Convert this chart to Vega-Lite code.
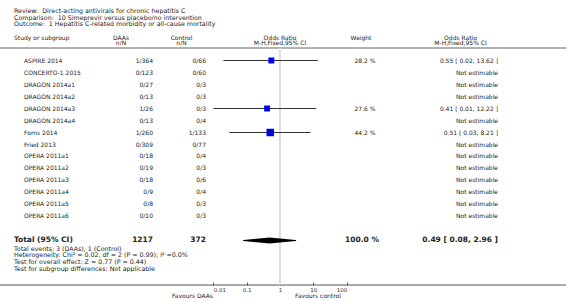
{
  "$schema": "https://vega.github.io/schema/vega-lite/v6.json",
  "width": 566,
  "height": 301,
  "autosize": {"type": "none"},
  "padding": 0,
  "background": "white",
  "config": {
    "view": {"stroke": null},
    "text": {"font": "DejaVu Sans", "fontSize": 6, "fill": "#222"}
  },
  "datasets": {
    "studies": [
      {"study": "ASPIRE 2014", "daas": "1/364", "ctrl": "0/66", "weight": "28.2 %", "or_txt": "0.55 [ 0.02, 13.62 ]", "or": 0.55, "lo": 0.02, "hi": 13.62, "w": 28.2, "row": 0},
      {"study": "CONCERTO-1 2015", "daas": "0/123", "ctrl": "0/60", "weight": "", "or_txt": "Not estimable", "or": null, "lo": null, "hi": null, "w": null, "row": 1},
      {"study": "DRAGON 2014a1", "daas": "0/27", "ctrl": "0/3", "weight": "", "or_txt": "Not estimable", "or": null, "lo": null, "hi": null, "w": null, "row": 2},
      {"study": "DRAGON 2014a2", "daas": "0/13", "ctrl": "0/3", "weight": "", "or_txt": "Not estimable", "or": null, "lo": null, "hi": null, "w": null, "row": 3},
      {"study": "DRAGON 2014a3", "daas": "1/26", "ctrl": "0/3", "weight": "27.6 %", "or_txt": "0.41 [ 0.01, 12.22 ]", "or": 0.41, "lo": 0.01, "hi": 12.22, "w": 27.6, "row": 4},
      {"study": "DRAGON 2014a4", "daas": "0/13", "ctrl": "0/4", "weight": "", "or_txt": "Not estimable", "or": null, "lo": null, "hi": null, "w": null, "row": 5},
      {"study": "Forns 2014", "daas": "1/260", "ctrl": "1/133", "weight": "44.2 %", "or_txt": "0.51 [ 0.03, 8.21 ]", "or": 0.51, "lo": 0.03, "hi": 8.21, "w": 44.2, "row": 6},
      {"study": "Fried 2013", "daas": "0/309", "ctrl": "0/77", "weight": "", "or_txt": "Not estimable", "or": null, "lo": null, "hi": null, "w": null, "row": 7},
      {"study": "OPERA 2011a1", "daas": "0/18", "ctrl": "0/4", "weight": "", "or_txt": "Not estimable", "or": null, "lo": null, "hi": null, "w": null, "row": 8},
      {"study": "OPERA 2011a2", "daas": "0/19", "ctrl": "0/3", "weight": "", "or_txt": "Not estimable", "or": null, "lo": null, "hi": null, "w": null, "row": 9},
      {"study": "OPERA 2011a3", "daas": "0/18", "ctrl": "0/6", "weight": "", "or_txt": "Not estimable", "or": null, "lo": null, "hi": null, "w": null, "row": 10},
      {"study": "OPERA 2011a4", "daas": "0/9", "ctrl": "0/4", "weight": "", "or_txt": "Not estimable", "or": null, "lo": null, "hi": null, "w": null, "row": 11},
      {"study": "OPERA 2011a5", "daas": "0/8", "ctrl": "0/3", "weight": "", "or_txt": "Not estimable", "or": null, "lo": null, "hi": null, "w": null, "row": 12},
      {"study": "OPERA 2011a6", "daas": "0/10", "ctrl": "0/3", "weight": "", "or_txt": "Not estimable", "or": null, "lo": null, "hi": null, "w": null, "row": 13}
    ],
    "total": [
      {"study": "Total (95% CI)", "daas": "1217", "ctrl": "372", "weight": "100.0 %", "or_txt": "0.49 [ 0.08, 2.96 ]", "or": 0.49, "lo": 0.08, "hi": 2.96, "row": 15}
    ],
    "notes": [
      {"col": "title", "text": "Review:\u00a0 Direct-acting antivirals for chronic hepatitis C", "row": -4.125},
      {"col": "title", "text": "Comparison:\u00a0 10 Simeprevir versus placebo/no intervention", "row": -3.58},
      {"col": "title", "text": "Outcome:\u00a0 1 Hepatitis C-related morbidity or all-cause mortality", "row": -3.04},
      {"col": "left", "text": "Study or subgroup", "row": -1.875},
      {"col": "daas", "text": "DAAs", "row": -1.875},
      {"col": "daas", "text": "n/N", "row": -1.42},
      {"col": "ctrl", "text": "Control", "row": -1.875},
      {"col": "ctrl", "text": "n/N", "row": -1.42},
      {"col": "forest", "text": "Odds Ratio", "row": -1.875},
      {"col": "forest", "text": "M-H,Fixed,95% CI", "row": -1.42},
      {"col": "weight", "text": "Weight", "row": -1.875},
      {"col": "ortxt", "text": "Odds Ratio", "row": -1.875},
      {"col": "ortxt", "text": "M-H,Fixed,95% CI", "row": -1.42},
      {"col": "title", "text": "Total events: 3 (DAAs), 1 (Control)", "row": 15.68},
      {"col": "title", "text": "Heterogeneity: Chi² = 0.02, df = 2 (P = 0.99); I² =0.0%", "row": 16.23},
      {"col": "title", "text": "Test for overall effect: Z = 0.77 (P = 0.44)", "row": 16.79},
      {"col": "title", "text": "Test for subgroup differences: Not applicable", "row": 17.35},
      {"col": "favL", "text": "Favours DAAs", "row": 19.6},
      {"col": "favR", "text": "Favours control", "row": 19.6}
    ]
  },
  "layer": [
    {
      "data": {"values": [{}]},
      "mark": {"type": "rule", "color": "#999", "strokeWidth": 1.5},
      "encoding": {
        "y": {"datum": -1.04, "type": "quantitative", "scale": {"domain": [-5.0417, 20.0417], "reverse": true, "nice": false, "zero": false}, "axis": null}
      }
    },
    {
      "data": {"values": [{}]},
      "mark": {"type": "rule", "color": "#555", "strokeWidth": 1},
      "encoding": {"y": {"datum": 18.71, "type": "quantitative"}}
    },
    {
      "data": {"values": [{}]},
      "mark": {"type": "rule", "color": "#ddd", "strokeWidth": 2},
      "encoding": {
        "x": {"datum": 1, "type": "quantitative"},
        "y": {"datum": -1.04, "type": "quantitative"},
        "y2": {"datum": 18.71}
      }
    },
    {
      "data": {"name": "studies"},
      "transform": [{"filter": "isValid(datum.lo)"}],
      "mark": {"type": "rule", "color": "#333", "strokeWidth": 1},
      "encoding": {
        "x": {
          "field": "lo", "type": "quantitative",
          "scale": {"type": "log", "domain": [0.01, 100], "range": [213.33, 346.67], "nice": false},
          "axis": {
            "values": [0.01, 0.1, 1, 10, 100], "format": "~g", "title": null, "offset": -16,
            "domain": false, "grid": false, "tickSize": -3, "tickColor": "#555",
            "labelFont": "DejaVu Sans", "labelFontSize": 5.5, "labelColor": "#333", "labelPadding": 5, "labelBaseline": "top"
          }
        },
        "x2": {"field": "hi"},
        "y": {"field": "row", "type": "quantitative"}
      }
    },
    {
      "data": {"name": "studies"},
      "transform": [{"filter": "isValid(datum.or)"}],
      "mark": {"type": "point", "shape": "square", "filled": true, "color": "#0000ff", "opacity": 1},
      "encoding": {
        "x": {"field": "or", "type": "quantitative"},
        "y": {"field": "row", "type": "quantitative"},
        "size": {"field": "w", "type": "quantitative", "scale": {"domain": [0, 44.2], "range": [0, 56]}, "legend": null}
      }
    },
    {
      "data": {"name": "studies"},
      "transform": [{"filter": "isValid(datum.or)"}],
      "mark": {"type": "tick", "orient": "vertical", "color": "#000", "size": 4, "thickness": 1},
      "encoding": {
        "x": {"field": "or", "type": "quantitative"},
        "y": {"field": "row", "type": "quantitative"}
      }
    },
    {
      "data": {"name": "total"},
      "transform": [{"fold": ["lo", "or", "hi"], "as": ["part", "val"]}],
      "mark": {"type": "trail", "color": "#000"},
      "encoding": {
        "x": {"field": "val", "type": "quantitative"},
        "y": {"field": "row", "type": "quantitative"},
        "size": {"condition": {"test": "datum.part === 'or'", "value": 6}, "value": 0}
      }
    },
    {
      "data": {"name": "studies"},
      "mark": {"type": "text", "align": "left"},
      "encoding": {"x": {"value": 24}, "y": {"field": "row", "type": "quantitative"}, "text": {"field": "study"}}
    },
    {
      "data": {"name": "studies"},
      "mark": {"type": "text", "align": "right"},
      "encoding": {"x": {"value": 153}, "y": {"field": "row", "type": "quantitative"}, "text": {"field": "daas"}}
    },
    {
      "data": {"name": "studies"},
      "mark": {"type": "text", "align": "right"},
      "encoding": {"x": {"value": 206}, "y": {"field": "row", "type": "quantitative"}, "text": {"field": "ctrl"}}
    },
    {
      "data": {"name": "studies"},
      "mark": {"type": "text", "align": "center"},
      "encoding": {"x": {"value": 365}, "y": {"field": "row", "type": "quantitative"}, "text": {"field": "weight"}}
    },
    {
      "data": {"name": "studies"},
      "mark": {"type": "text", "align": "right"},
      "encoding": {"x": {"value": 498}, "y": {"field": "row", "type": "quantitative"}, "text": {"field": "or_txt"}}
    },
    {
      "data": {"name": "total"},
      "mark": {"type": "text", "align": "left", "fontWeight": "bold", "fontSize": 7.5},
      "encoding": {"x": {"value": 14}, "y": {"field": "row", "type": "quantitative"}, "text": {"field": "study"}}
    },
    {
      "data": {"name": "total"},
      "mark": {"type": "text", "align": "right", "fontWeight": "bold", "fontSize": 7.5},
      "encoding": {"x": {"value": 153}, "y": {"field": "row", "type": "quantitative"}, "text": {"field": "daas"}}
    },
    {
      "data": {"name": "total"},
      "mark": {"type": "text", "align": "right", "fontWeight": "bold", "fontSize": 7.5},
      "encoding": {"x": {"value": 206}, "y": {"field": "row", "type": "quantitative"}, "text": {"field": "ctrl"}}
    },
    {
      "data": {"name": "total"},
      "mark": {"type": "text", "align": "center", "fontWeight": "bold", "fontSize": 7.5},
      "encoding": {"x": {"value": 362}, "y": {"field": "row", "type": "quantitative"}, "text": {"field": "weight"}}
    },
    {
      "data": {"name": "total"},
      "mark": {"type": "text", "align": "right", "fontWeight": "bold", "fontSize": 7.5},
      "encoding": {"x": {"value": 498}, "y": {"field": "row", "type": "quantitative"}, "text": {"field": "or_txt"}}
    },
    {
      "data": {"name": "notes"},
      "transform": [{"filter": "datum.col === 'title'"}],
      "mark": {"type": "text", "align": "left", "fontSize": 6.3},
      "encoding": {"x": {"value": 14}, "y": {"field": "row", "type": "quantitative"}, "text": {"field": "text"}}
    },
    {
      "data": {"name": "notes"},
      "transform": [{"filter": "datum.col === 'left'"}],
      "mark": {"type": "text", "align": "left"},
      "encoding": {"x": {"value": 14}, "y": {"field": "row", "type": "quantitative"}, "text": {"field": "text"}}
    },
    {
      "data": {"name": "notes"},
      "transform": [{"filter": "datum.col === 'daas'"}],
      "mark": {"type": "text", "align": "center"},
      "encoding": {"x": {"value": 121}, "y": {"field": "row", "type": "quantitative"}, "text": {"field": "text"}}
    },
    {
      "data": {"name": "notes"},
      "transform": [{"filter": "datum.col === 'ctrl'"}],
      "mark": {"type": "text", "align": "center"},
      "encoding": {"x": {"value": 181.5}, "y": {"field": "row", "type": "quantitative"}, "text": {"field": "text"}}
    },
    {
      "data": {"name": "notes"},
      "transform": [{"filter": "datum.col === 'forest'"}],
      "mark": {"type": "text", "align": "center"},
      "encoding": {"x": {"value": 280}, "y": {"field": "row", "type": "quantitative"}, "text": {"field": "text"}}
    },
    {
      "data": {"name": "notes"},
      "transform": [{"filter": "datum.col === 'weight'"}],
      "mark": {"type": "text", "align": "center"},
      "encoding": {"x": {"value": 361}, "y": {"field": "row", "type": "quantitative"}, "text": {"field": "text"}}
    },
    {
      "data": {"name": "notes"},
      "transform": [{"filter": "datum.col === 'ortxt'"}],
      "mark": {"type": "text", "align": "center"},
      "encoding": {"x": {"value": 460.5}, "y": {"field": "row", "type": "quantitative"}, "text": {"field": "text"}}
    },
    {
      "data": {"name": "notes"},
      "transform": [{"filter": "datum.col === 'favL'"}],
      "mark": {"type": "text", "align": "right"},
      "encoding": {"x": {"value": 213}, "y": {"field": "row", "type": "quantitative"}, "text": {"field": "text"}}
    },
    {
      "data": {"name": "notes"},
      "transform": [{"filter": "datum.col === 'favR'"}],
      "mark": {"type": "text", "align": "left"},
      "encoding": {"x": {"value": 295}, "y": {"field": "row", "type": "quantitative"}, "text": {"field": "text"}}
    }
  ]
}
